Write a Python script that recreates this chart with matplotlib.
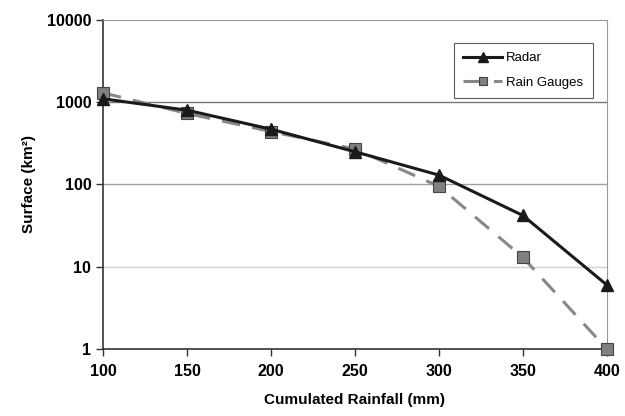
import matplotlib
matplotlib.use("Agg")
from matplotlib import pyplot as plt
from matplotlib.ticker import FixedLocator, FixedFormatter, NullLocator

rainfall = [100, 150, 200, 250, 300, 350, 400]
radar = [1100, 800, 470, 250, 130, 42, 6]
gauges = [1300, 730, 440, 270, 95, 13, 1]

yticks = [1, 10, 100, 1000, 10000]
ylabels = ["1", "10", "100", "1000", "10000"]

plt.rcParams["font.family"] = ["Liberation Sans", "DejaVu Sans"]

fig = plt.figure(figsize=(6.25, 4.16), dpi=100)
ax = fig.add_axes([0.165, 0.161, 0.806, 0.791])

ax.plot(rainfall, gauges, color="#888888", lw=2.2, dashes=(6, 4),
        marker="s", ms=8, mfc="#808080", mec="#444444", mew=0.8,
        label="Rain Gauges", zorder=3, clip_on=False)
ax.plot(rainfall, radar, color="#1a1a1a", lw=2.2,
        marker="^", ms=9, mfc="#1a1a1a", mec="#1a1a1a",
        label="Radar", zorder=4, clip_on=False)

ax.set_yscale("log")
ax.set_ylim(1, 10000)
ax.set_xlim(100, 400)
ax.yaxis.set_major_locator(FixedLocator(yticks))
ax.yaxis.set_major_formatter(FixedFormatter(ylabels))
ax.yaxis.set_minor_locator(NullLocator())
ax.set_xticks(rainfall)

for y, c in [(10, "#d0d0d0"), (100, "#a0a0a0"), (1000, "#777777")]:
    ax.axhline(y, color=c, lw=1, zorder=1)

for s in ["top", "right"]:
    ax.spines[s].set_color("#999999")
for s in ["left", "bottom"]:
    ax.spines[s].set_color("#333333")
    ax.spines[s].set_linewidth(1.2)

ax.tick_params(axis="both", labelsize=11.5, length=5, width=1, color="#333333")
ax.tick_params(axis="x", pad=6)
for lab in ax.get_xticklabels() + ax.get_yticklabels():
    lab.set_fontweight("bold")

ax.set_xlabel("Cumulated Rainfall (mm)", fontsize=11, fontweight="bold", labelpad=10)
ax.set_ylabel("Surface (km\u00b2)", fontsize=11, fontweight="bold", labelpad=8)

handles, labels = ax.get_legend_handles_labels()
leg = ax.legend(handles[::-1], labels[::-1], loc="upper right",
                bbox_to_anchor=(0.985, 0.95), frameon=True, fancybox=False,
                edgecolor="#333333", handlelength=3, markerscale=0.75,
                prop={"size": 9.5}, borderpad=0.7, labelspacing=0.9,
                handletextpad=0.3)
leg.get_frame().set_linewidth(0.8)

fig.savefig("out.png", dpi=100)
